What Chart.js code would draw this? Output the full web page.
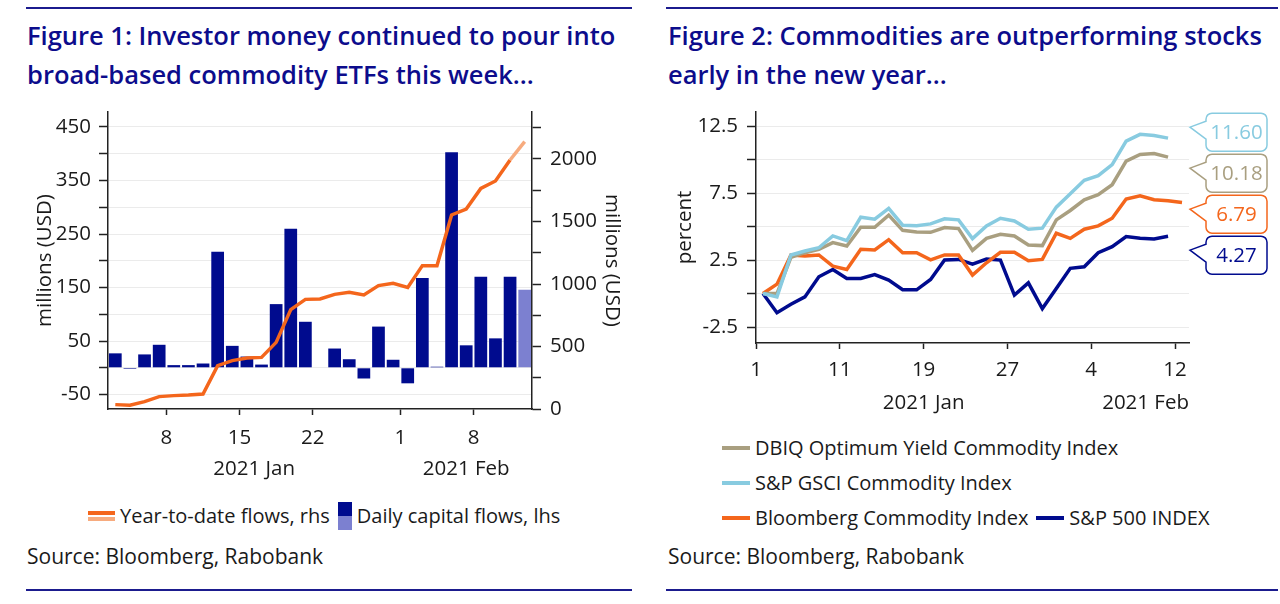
<!DOCTYPE html>
<html>
<head>
<meta charset="utf-8">
<script src="https://cdn.jsdelivr.net/npm/chart.js@4.4.1/dist/chart.umd.min.js"></script>
<style>
  body { margin: 0; width: 1280px; height: 604px; background: #fff; position: relative; overflow: hidden;
         font-family: 'Open Sans', sans-serif; color: #1a1a1a; }
  .rule { position: absolute; height: 2px; background: #1b1b8e; }
  .title { position: absolute; color: #0c0c8c; font-weight: 600; font-size: 25.5px; line-height: 39px; white-space: nowrap; }
  .box { position: absolute; }
  .source { position: absolute; font-size: 21px; white-space: nowrap; }
  .legend { position: absolute; font-size: 20px; white-space: nowrap; }
  .lrow { display: flex; align-items: center; height: 35px; }
  .item { display: flex; align-items: center; margin-right: 8px; }
  .sw { display: inline-block; margin-right: 5px; }
</style>
</head>
<body>
<div class="rule" style="left:26px; width:606px; top:7px"></div>
<div class="rule" style="left:666px; width:612px; top:7px"></div>
<div class="rule" style="left:26px; width:606px; top:589px"></div>
<div class="rule" style="left:666px; width:612px; top:589px"></div>

<div class="title" style="left:27px; top:16px">Figure 1: Investor money continued to pour into<br>broad-based commodity ETFs this week...</div>
<div class="title" style="left:668px; top:16px">Figure 2: Commodities are outperforming stocks<br>early in the new year...</div>

<div class="box" style="left:0; top:80px"><canvas id="flows" width="640" height="400"></canvas></div>
<div class="box" style="left:640px; top:80px"><canvas id="perf" width="640" height="340"></canvas></div>

<div class="legend" id="legend1" style="left:88px; top:498px"></div>
<div class="legend" id="legend2" style="left:722px; top:430px"></div>

<div class="source" style="left:27px; top:542px">Source: Bloomberg, Rabobank</div>
<div class="source" style="left:668px; top:542px">Source: Bloomberg, Rabobank</div>

<script>
// ---- Figure 1 data (trading days, millions USD) ----
var flowDates = ['Jan 4', 'Jan 5', 'Jan 6', 'Jan 7', 'Jan 8', 'Jan 11', 'Jan 12', 'Jan 13', 'Jan 14', 'Jan 15',
    'Jan 18', 'Jan 19', 'Jan 20', 'Jan 21', 'Jan 22', 'Jan 25', 'Jan 26', 'Jan 27', 'Jan 28', 'Jan 29',
    'Feb 1', 'Feb 2', 'Feb 3', 'Feb 4', 'Feb 5', 'Feb 8', 'Feb 9', 'Feb 10', 'Feb 11'];
var flowTickDates = ['Jan 8', 'Jan 15', 'Jan 22', 'Feb 1', 'Feb 8'];
var flowMonths = ['2021 Jan', '2021 Feb'];
var dailyFlows = [27, -2, 25, 43, 5, 5, 8, 217, 41, 21, 6, 119, 260, 86, 0, 36, 16, -20, 77, 15,
    -29, 168, 2, 403, 42, 170, 55, 170, 146];
var ytdFlows = [35, 30, 59, 99, 107, 112, 120, 347, 387, 408, 413, 533, 795, 877, 880, 917, 933, 912, 987, 1005,
    973, 1147, 1147, 1552, 1600, 1765, 1824, 1992, 2139];
var flowLabels = ['Year-to-date flows, rhs', 'Daily capital flows, lhs'];

// ---- Figure 2 data (weekdays, percent change YTD) ----
var perfDates = ['Jan 1', 'Jan 4', 'Jan 5', 'Jan 6', 'Jan 7', 'Jan 8', 'Jan 11', 'Jan 12', 'Jan 13', 'Jan 14', 'Jan 15',
    'Jan 18', 'Jan 19', 'Jan 20', 'Jan 21', 'Jan 22', 'Jan 25', 'Jan 26', 'Jan 27', 'Jan 28', 'Jan 29',
    'Feb 1', 'Feb 2', 'Feb 3', 'Feb 4', 'Feb 5', 'Feb 8', 'Feb 9', 'Feb 10', 'Feb 11', 'Feb 12'];
var perfTickDates = ['Jan 1', 'Jan 11', 'Jan 19', 'Jan 27', 'Feb 4', 'Feb 12'];
var perfMonths = ['2021 Jan', '2021 Feb'];
var perfMonthAnchors = ['Jan 19', 'Feb 12'];
var dbiq = [0, 0.0, 2.7, 3.05, 3.3, 3.8, 3.55, 4.95, 4.95, 5.85, 4.72, 4.6, 4.57, 4.93, 4.85, 3.22, 4.12, 4.42, 4.3, 3.62,
    3.58, 5.5, 6.2, 7.0, 7.38, 8.12, 9.88, 10.38, 10.45, 10.18, null];
var gsci = [0, -0.25, 2.88, 3.18, 3.42, 4.3, 3.95, 5.7, 5.55, 6.35, 5.1, 5.06, 5.2, 5.58, 5.5, 4.1, 5.05, 5.62, 5.42, 4.8,
    4.88, 6.45, 7.45, 8.45, 8.8, 9.62, 11.38, 11.88, 11.8, 11.6, null];
var bcom = [0, 0.7, 2.88, 2.8, 2.88, 2.05, 1.8, 3.3, 3.25, 4.02, 3.05, 3.05, 2.52, 2.88, 2.88, 1.38, 2.3, 3.08, 3.08, 2.45,
    2.55, 4.5, 4.12, 4.8, 5.05, 5.62, 7.05, 7.3, 7.0, 6.92, 6.79];
var spx = [0, -1.43, -0.8, -0.25, 1.25, 1.8, 1.12, 1.12, 1.42, 1.0, 0.28, 0.28, 1.05, 2.5, 2.55, 2.2, 2.58, 2.5, -0.12, 0.8,
    -1.12, 0.38, 1.88, 2.0, 3.05, 3.5, 4.25, 4.12, 4.08, 4.27, null];
var perfNames = ['DBIQ Optimum Yield Commodity Index', 'S&P GSCI Commodity Index', 'Bloomberg Commodity Index', 'S&P 500 INDEX'];

var NAVY = '#000b8e';
var NAVY_LIGHT = '#7c80d0';
var ORANGE = '#f4661c';
var ORANGE_LIGHT = '#f7ab7e';
var CYAN = '#88cbe0';
var TAN = '#a99f80';
var TEXT = '#1a1a1a';
var AXIS = '#222';
var GRID = '#ebebeb';
var FONT = "20.5px 'Open Sans', sans-serif";

Chart.defaults.font.family = "'Open Sans', sans-serif";
Chart.defaults.font.size = 20.5;
Chart.defaults.color = TEXT;

// month captions under the day ticks
var monthLabels = {
    id: 'monthLabels',
    afterDraw: function (chart, args, opts) {
        var x = chart.scales.x;
        var labels = chart.data.labels;
        var half = (x.getPixelForValue(1) - x.getPixelForValue(0)) / 2;
        var ctx = chart.ctx;
        ctx.save();
        ctx.font = FONT;
        ctx.fillStyle = TEXT;
        ctx.textAlign = 'center';
        ctx.textBaseline = 'middle';
        opts.names.forEach(function (name, m) {
            var w = ctx.measureText(name).width;
            var cx;
            if (opts.anchors) {
                cx = x.getPixelForValue(labels.indexOf(opts.anchors[m])) - half;
            } else {
                var mon = name.split(' ')[1];
                var idx = [];
                labels.forEach(function (l, i) { if (l.indexOf(mon) === 0) idx.push(i); });
                cx = (x.getPixelForValue(idx[0]) - half + x.getPixelForValue(idx[idx.length - 1]) + half) / 2;
            }
            cx = Math.min(Math.max(cx, x.left + w / 2), x.right - w / 2);
            ctx.fillText(name, cx, x.top + 60.5);
        });
        ctx.restore();
    }
};

// value call-outs at the right end of figure 2
var callouts = {
    id: 'callouts',
    afterDatasetsDraw: function (chart) {
        var ctx = chart.ctx, area = chart.chartArea, y = chart.scales.y;
        var items = chart.data.datasets.map(function (ds) {
            var v = null;
            for (var i = ds.data.length - 1; i >= 0; i--) { if (ds.data[i] !== null) { v = ds.data[i]; break; } }
            return { v: v, color: ds.borderColor, py: y.getPixelForValue(v) };
        }).sort(function (a, b) { return b.v - a.v; });
        var w = 61, h = 38, r = 6, left = area.right + 17;
        var prev = -1000;
        ctx.save();
        ctx.font = FONT;
        ctx.textAlign = 'center';
        ctx.textBaseline = 'middle';
        items.forEach(function (it) {
            var cy = Math.max(it.py - 6, prev + h + 3);
            prev = cy;
            var top = cy - h / 2;
            var tipY = cy - 5;
            ctx.beginPath();
            ctx.moveTo(left + r, top);
            ctx.lineTo(left + w - r, top);
            ctx.arcTo(left + w, top, left + w, top + r, r);
            ctx.lineTo(left + w, top + h - r);
            ctx.arcTo(left + w, top + h, left + w - r, top + h, r);
            ctx.lineTo(left + r, top + h);
            ctx.arcTo(left, top + h, left, top + h - r, r);
            ctx.lineTo(left, top + 26);
            ctx.lineTo(area.right + 1, tipY);
            ctx.lineTo(left, top + 8);
            ctx.lineTo(left, top + r);
            ctx.arcTo(left, top, left + r, top, r);
            ctx.closePath();
            ctx.fillStyle = '#fff';
            ctx.fill();
            ctx.lineWidth = 1.5;
            ctx.strokeStyle = it.color;
            ctx.stroke();
            ctx.fillStyle = it.color;
            ctx.fillText(it.v.toFixed(2), left + w / 2, cy + 1);
        });
        ctx.restore();
    }
};

function dayTicks(dates, shown) {
    return {
        autoSkip: false, maxRotation: 0, minRotation: 0,
        callback: function (value, index) {
            var d = dates[index];
            return shown.indexOf(d) >= 0 ? d.split(' ')[1] : '';
        }
    };
}
function dayGrid(dates, shown) {
    return {
        offset: true, drawOnChartArea: false, tickLength: 6, tickWidth: 1.5,
        tickColor: function (c) { return shown.indexOf(dates[c.index]) >= 0 ? AXIS : 'rgba(0,0,0,0)'; }
    };
}

// ---- Figure 1 ----
var flowCtx = document.getElementById('flows').getContext('2d');
var flowChart = new Chart(flowCtx, {
    type: 'bar',
    data: {
        labels: flowDates,
        datasets: [{
            type: 'line',
            label: flowLabels[0],
            data: ytdFlows,
            yAxisID: 'y1',
            borderColor: ORANGE,
            borderWidth: 3.5,
            pointRadius: 0,
            tension: 0,
            order: 0,
            segment: {
                borderColor: function (c) { return c.p1DataIndex === ytdFlows.length - 1 ? ORANGE_LIGHT : undefined; }
            }
        }, {
            type: 'bar',
            label: flowLabels[1],
            data: dailyFlows,
            yAxisID: 'y',
            backgroundColor: function (c) { return c.dataIndex === dailyFlows.length - 1 ? NAVY_LIGHT : NAVY; },
            categoryPercentage: 1,
            barPercentage: 0.87,
            order: 1
        }]
    },
    options: {
        responsive: false,
        animation: false,
        layout: { padding: { top: 32, left: 0, right: 0, bottom: 0 } },
        plugins: {
            legend: { display: false },
            tooltip: { enabled: false },
            monthLabels: { names: flowMonths }
        },
        scales: {
            x: {
                offset: true,
                border: { color: AXIS, width: 1.5 },
                grid: dayGrid(flowDates, flowTickDates),
                ticks: Object.assign(dayTicks(flowDates, flowTickDates), { padding: 11, labelOffset: -(424 / flowDates.length) / 2 }),
                afterFit: function (s) { s.height = 71; }
            },
            y: {
                position: 'left',
                min: -77, max: 478,
                border: { color: AXIS, width: 1.5 },
                grid: { color: GRID, tickColor: AXIS, tickLength: 9, tickWidth: 1.5 },
                ticks: {
                    stepSize: 50, includeBounds: false, padding: 8,
                    callback: function (v) { return (v + 50) % 100 === 0 ? String(v) : ''; }
                },
                title: { display: true, text: 'millions (USD)', padding: { top: 33, bottom: 0 } },
                afterFit: function (s) { s.width = 108; }
            },
            y1: {
                position: 'right',
                min: 0, max: 2376,
                border: { color: AXIS, width: 1.5 },
                grid: { drawOnChartArea: false, tickColor: AXIS, tickLength: 9, tickWidth: 1.5 },
                ticks: {
                    stepSize: 250, includeBounds: false, padding: 9,
                    callback: function (v) { return v % 500 === 0 ? String(v) : ''; }
                },
                title: { display: true, text: 'millions (USD)', padding: { top: 16, bottom: 0 } },
                afterFit: function (s) { s.width = 108; }
            }
        }
    },
    plugins: [monthLabels]
});

// ---- Figure 2 ----
var perfSeries = [
    { label: perfNames[1], data: gsci, color: CYAN },
    { label: perfNames[0], data: dbiq, color: TAN },
    { label: perfNames[2], data: bcom, color: ORANGE },
    { label: perfNames[3], data: spx, color: NAVY }
];
var perfCtx = document.getElementById('perf').getContext('2d');
var perfChart = new Chart(perfCtx, {
    type: 'line',
    data: {
        labels: perfDates,
        datasets: perfSeries.map(function (s) {
            return { label: s.label, data: s.data, borderColor: s.color, borderWidth: 3.5, pointRadius: 0, tension: 0 };
        })
    },
    options: {
        responsive: false,
        animation: false,
        layout: { padding: { top: 32, left: 0, right: 91, bottom: 0 } },
        plugins: {
            legend: { display: false },
            tooltip: { enabled: false },
            monthLabels: { names: perfMonths, anchors: perfMonthAnchors }
        },
        scales: {
            x: {
                offset: true,
                border: { color: AXIS, width: 1.5 },
                grid: dayGrid(perfDates, perfTickDates),
                ticks: Object.assign(dayTicks(perfDates, perfTickDates), { padding: 9, labelOffset: -(433 / perfDates.length) / 2 }),
                afterFit: function (s) { s.height = 77; }
            },
            y: {
                min: -3.69, max: 13.55,
                border: { color: AXIS, width: 1.5 },
                grid: { color: GRID, tickColor: AXIS, tickLength: 9, tickWidth: 1.5 },
                ticks: {
                    stepSize: 2.5, includeBounds: false, padding: 9,
                    callback: function (v) { return Math.abs(Math.round(v / 2.5)) % 2 === 1 ? v.toFixed(1) : ''; }
                },
                title: { display: true, text: 'percent', padding: { top: 33, bottom: 0 } },
                afterFit: function (s) { s.width = 116; }
            }
        }
    },
    plugins: [callouts, monthLabels]
});

// ---- HTML legends ----
function swatchLine(colors, width) {
    var html = '<span class="sw" style="width:' + width + 'px">';
    colors.forEach(function (c, i) {
        html += '<span style="display:block;height:4px;background:' + c + ';margin-top:' + (i ? 2 : 0) + 'px"></span>';
    });
    return html + '</span>';
}
var l1 = document.getElementById('legend1');
l1.innerHTML = '<div class="lrow">' +
    '<span class="item">' + swatchLine([ORANGE, ORANGE_LIGHT], 27) + flowLabels[0] + '</span>' +
    '<span class="item"><span class="sw" style="width:14px">' +
    '<span style="display:block;height:14px;background:' + NAVY + '"></span>' +
    '<span style="display:block;height:14px;background:' + NAVY_LIGHT + '"></span></span>' + flowLabels[1] + '</span>' +
    '</div>';

var perfColors = [TAN, CYAN, ORANGE, NAVY];
var legendRows = [[0], [1], [2, 3]];
var l2 = document.getElementById('legend2');
l2.innerHTML = legendRows.map(function (row) {
    return '<div class="lrow">' + row.map(function (i) {
        return '<span class="item">' + swatchLine([perfColors[i]], 28) + perfNames[i].replace(/&/g, '&amp;') + '</span>';
    }).join('') + '</div>';
}).join('');
</script>
</body>
</html>
